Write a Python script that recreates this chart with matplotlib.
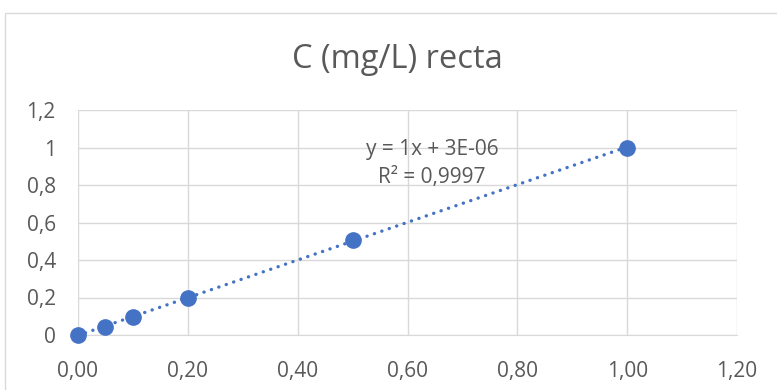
import numpy as np
import matplotlib.pyplot as plt
from matplotlib.patches import Rectangle

# data
conc = [0.0, 0.05, 0.1, 0.2, 0.5, 1.0]
signal = [0.0, 0.045, 0.095, 0.2, 0.507, 1.0]
x_ticks = [0.0, 0.2, 0.4, 0.6, 0.8, 1.0, 1.2]
y_ticks = [0.0, 0.2, 0.4, 0.6, 0.8, 1.0, 1.2]
x_labels = ['0,00', '0,20', '0,40', '0,60', '0,80', '1,00', '1,20']
y_labels = ['0', '0,2', '0,4', '0,6', '0,8', '1', '1,2']
eq_text = 'y = 1x + 3E-06'
r2_text = 'R² = 0,9997'

blue = '#4472C4'
grey = '#595959'
grid_col = '#D9D9D9'

plt.rcParams['font.family'] = ['Open Sans', 'DejaVu Sans']

fig = plt.figure(figsize=(7.77, 3.9), dpi=100)
# chart area border (only left/top visible in the crop)
fig.patches.append(Rectangle((5 / 777, -0.1), 1.2, 1.1 - 13 / 390,
                             transform=fig.transFigure, fill=False,
                             edgecolor=grid_col, lw=1))

ax = fig.add_axes([78 / 777, 55 / 390, 659 / 777, 225 / 390])

# linear trendline
slope, intercept = np.polyfit(conc, signal, 1)
xs = np.array([min(conc), max(conc)])
ax.plot(xs, slope * xs + intercept, color=blue, lw=2.4,
        linestyle=(0, (0.05, 2.3)), dash_capstyle='round', zorder=3)

ax.plot(conc, signal, 'o', color=blue, ms=11, zorder=4, clip_on=False)

ax.set_xlim(0, 1.2)
ax.set_ylim(0, 1.2)
ax.set_xticks(x_ticks, x_labels)
ax.set_yticks(y_ticks, y_labels)
ax.tick_params(length=0, labelsize=15, labelcolor=grey)
ax.tick_params(axis='x', pad=19)
ax.tick_params(axis='y', pad=16)
ax.grid(True, color=grid_col, lw=1)
ax.set_axisbelow(True)
for s in ax.spines.values():
    s.set_visible(False)
ax.spines['bottom'].set_visible(True)
ax.spines['bottom'].set_color(grid_col)

ax.text(0.645, 0.96, eq_text, ha='center', va='baseline', fontsize=15, color=grey)
ax.text(0.645, 0.81, r2_text, ha='center', va='baseline', fontsize=15, color=grey)

fig.text(397 / 777, 1 - 68 / 390, 'C (mg/L) recta', ha='center', va='baseline',
         fontsize=23.5, color=grey)

fig.savefig('out.png', dpi=100)
